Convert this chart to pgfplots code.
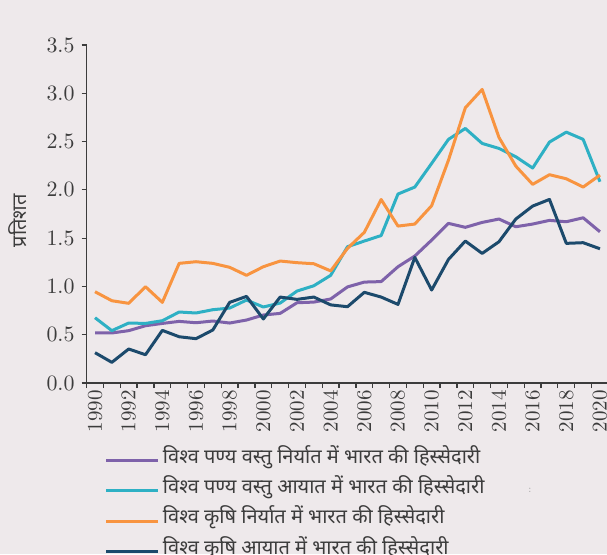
\documentclass[border=0pt]{standalone}
\usepackage{pgfplots}
\pgfplotsset{compat=1.18}
\usepackage{fontspec}
\newfontfamily\deva[Script=Devanagari]{Noto Sans}
\definecolor{bgc}{RGB}{238,233,235}
\definecolor{purp}{RGB}{126,98,170}
\definecolor{cyn}{RGB}{46,176,196}
\definecolor{orng}{RGB}{248,148,64}
\definecolor{navy}{RGB}{28,74,108}
\definecolor{axc}{RGB}{60,60,60}
\begin{document}
\begin{tikzpicture}
\fill[bgc] (-43.3pt,-85.5pt) rectangle (260.2pt,191.5pt);
\begin{axis}[
  scale only axis,
  width=260.9pt, height=169pt,
  xmin=1989.5, xmax=2020.5, ymin=0, ymax=3.5,
  axis x line*=bottom, axis y line*=left,
  axis line style={-, draw=axc, line width=0.6pt},
  tick style={draw=axc, line width=0.6pt},
  tick align=outside, major tick length=2.5pt,
  ytick={0,0.5,...,3.5},
  yticklabel style={/pgf/number format/.cd, fixed, fixed zerofill, precision=1},
  xtick={1989.5,1990.5,...,2020.5},
  xticklabels={},
  extra x ticks={1990,1992,...,2020},
  extra x tick labels={1990,1992,1994,1996,1998,2000,2002,2004,2006,2008,2010,2012,2014,2016,2018,2020},
  extra x tick style={major tick length=0pt},
  x tick label style={rotate=90, anchor=east},
  tick label style={font=\fontsize{10.5}{12}\selectfont, text=axc},
  ylabel={\deva प्रतिशत},
  ylabel style={at={(axis description cs:-0.132,0.48)}, anchor=center, font=\fontsize{10}{12}\selectfont, text=axc},
  legend style={draw=none, fill=none, at={(axis description cs:0.023,-0.172)}, anchor=north west,
    font=\deva\fontsize{10}{12}\selectfont, text=axc, row sep=0pt,
    nodes={inner sep=1.5pt, text height=7.5pt, text depth=4.6pt}},
  legend cell align=left,
  legend image code/.code={\draw[#1] (0pt,0pt) -- (26pt,0pt);},
  every axis plot/.append style={line width=1.5pt, line join=round},
]
\addplot[purp] coordinates {
(1990,0.518) (1991,0.518) (1992,0.542) (1993,0.593) (1994,0.617) (1995,0.638)
(1996,0.624) (1997,0.642) (1998,0.621) (1999,0.652) (2000,0.704) (2001,0.721)
(2002,0.831) (2003,0.838) (2004,0.870) (2005,0.995) (2006,1.045) (2007,1.050)
(2008,1.204) (2009,1.315) (2010,1.480) (2011,1.653) (2012,1.612) (2013,1.663)
(2014,1.698) (2015,1.618) (2016,1.646) (2017,1.684) (2018,1.670) (2019,1.711)
(2020,1.566)};
\addlegendentry{विश्व पण्य वस्तु निर्यात में भारत की हिस्सेदारी}
\addplot[cyn] coordinates {
(1990,0.676) (1991,0.542) (1992,0.621) (1993,0.617) (1994,0.645) (1995,0.735)
(1996,0.725) (1997,0.759) (1998,0.776) (1999,0.859) (2000,0.787) (2001,0.828)
(2002,0.952) (2003,1.007) (2004,1.115) (2005,1.411) (2006,1.470) (2007,1.527)
(2008,1.957) (2009,2.029) (2010,2.274) (2011,2.523) (2012,2.636) (2013,2.481)
(2014,2.429) (2015,2.343) (2016,2.226) (2017,2.495) (2018,2.598) (2019,2.523)
(2020,2.084)};
\addlegendentry{विश्व पण्य वस्तु आयात में भारत की हिस्सेदारी}
\addplot[orng] coordinates {
(1990,0.945) (1991,0.852) (1992,0.825) (1993,0.997) (1994,0.835) (1995,1.239)
(1996,1.256) (1997,1.239) (1998,1.198) (1999,1.115) (2000,1.204) (2001,1.263)
(2002,1.246) (2003,1.235) (2004,1.161) (2005,1.394) (2006,1.560) (2007,1.900)
(2008,1.625) (2009,1.646) (2010,1.836) (2011,2.308) (2012,2.850) (2013,3.040)
(2014,2.543) (2015,2.246) (2016,2.057) (2017,2.157) (2018,2.115) (2019,2.029)
(2020,2.153)};
\addlegendentry{विश्व कृषि निर्यात में भारत की हिस्सेदारी}
\addplot[navy] coordinates {
(1990,0.314) (1991,0.214) (1992,0.352) (1993,0.293) (1994,0.545) (1995,0.479)
(1996,0.459) (1997,0.549) (1998,0.835) (1999,0.897) (2000,0.663) (2001,0.890)
(2002,0.866) (2003,0.890) (2004,0.809) (2005,0.790) (2006,0.939) (2007,0.890)
(2008,0.814) (2009,1.301) (2010,0.963) (2011,1.280) (2012,1.470) (2013,1.342)
(2014,1.463) (2015,1.698) (2016,1.832) (2017,1.901) (2018,1.446) (2019,1.453)
(2020,1.390)};
\addlegendentry{विश्व कृषि आयात में भारत की हिस्सेदारी}
\end{axis}
\node[text=gray!70, font=\tiny] at (221.7pt,-53.5pt) {:};
\pgfresetboundingbox
\path[use as bounding box] (-43.3pt,-85.5pt) rectangle (260.2pt,191.5pt);
\end{tikzpicture}
\end{document}
